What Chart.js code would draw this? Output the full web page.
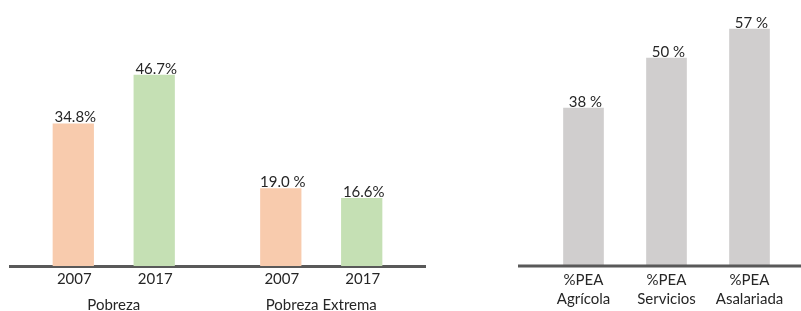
<!DOCTYPE html>
<html>
<head>
<meta charset="utf-8">
<script src="https://cdn.jsdelivr.net/npm/chart.js@4/dist/chart.umd.min.js"></script>
<style>
    body { margin: 0; background: #fff; }
    #wrap { position: relative; width: 801px; height: 311px; }
    .box { position: absolute; top: 0; height: 311px; }
</style>
</head>
<body>
<div id="wrap">
    <div class="box" style="left:0;width:430px"><canvas id="pobreza"></canvas></div>
    <div class="box" style="left:500px;width:301px"><canvas id="pea"></canvas></div>
</div>
<script>
const groups = ['Pobreza', 'Pobreza Extrema'];
const years = ['2007', '2017'];
const values2007 = [34.8, 19.0];
const values2017 = [46.7, 16.6];
const labels2007 = ['34.8%', '19.0 %'];
const labels2017 = ['46.7%', '16.6%'];

const peaCategories = [['%PEA', 'Agrícola'], ['%PEA', 'Servicios'], ['%PEA', 'Asalariada']];
const peaValues = [38, 50, 57];
const peaLabels = ['38 %', '50 %', '57 %'];

const FONT = 'Lato, "Open Sans", sans-serif';
const TEXT = '#262626';
const AXIS = '#595959';

Chart.defaults.font.family = FONT;
Chart.defaults.font.size = 15;
Chart.defaults.color = TEXT;

// text on top of each bar
const valueLabels = {
    id: 'valueLabels',
    afterDatasetsDraw(chart) {
        const ctx = chart.ctx;
        ctx.save();
        ctx.font = '15px ' + FONT;
        ctx.fillStyle = TEXT;
        ctx.textAlign = 'center';
        ctx.textBaseline = 'alphabetic';
        chart.data.datasets.forEach((ds, i) => {
            chart.getDatasetMeta(i).data.forEach((bar, j) => {
                ctx.fillText(ds.valueLabels[j], bar.x + 2, bar.y - 1);
            });
        });
        ctx.restore();
    },
};

// year under each bar of the left chart
const yearLabels = {
    id: 'yearLabels',
    afterDraw(chart) {
        const ctx = chart.ctx;
        const y = chart.scales.x.top + 13;
        ctx.save();
        ctx.font = '15px ' + FONT;
        ctx.fillStyle = TEXT;
        ctx.textAlign = 'center';
        ctx.textBaseline = 'middle';
        chart.data.datasets.forEach((ds, i) => {
            chart.getDatasetMeta(i).data.forEach(bar => {
                ctx.fillText(ds.label, bar.x + 1, y);
            });
        });
        ctx.restore();
    },
};

// base line of the right chart runs past the first bar
const baseLine = {
    id: 'baseLine',
    afterDatasetsDraw(chart) {
        const ctx = chart.ctx;
        const y = chart.scales.y.getPixelForValue(0);
        ctx.save();
        ctx.strokeStyle = AXIS;
        ctx.lineWidth = 3;
        ctx.beginPath();
        ctx.moveTo(18, y);
        ctx.lineTo(chart.width, y);
        ctx.stroke();
        ctx.restore();
    },
};

new Chart(document.getElementById('pobreza'), {
    type: 'bar',
    data: {
        labels: groups,
        datasets: [{
            label: years[0],
            data: values2007,
            valueLabels: labels2007,
            backgroundColor: '#F8CBAD',
        }, {
            label: years[1],
            data: values2017,
            valueLabels: labels2017,
            backgroundColor: '#C5E0B4',
        }],
    },
    options: {
        responsive: true,
        maintainAspectRatio: false,
        animation: false,
        layout: { padding: { left: 10, right: 5, top: 12, bottom: 0 } },
        categoryPercentage: 0.78,
        barPercentage: 0.51,
        plugins: { legend: { display: false }, tooltip: { enabled: false } },
        scales: {
            x: {
                grid: { display: false, drawTicks: false },
                border: { display: true, color: AXIS, width: 3 },
                ticks: { padding: 30, font: { size: 15 } },
                afterFit: s => { s.height = 45; },
            },
            y: { display: false, min: 0, max: 62 },
        },
    },
    plugins: [valueLabels, yearLabels],
});

new Chart(document.getElementById('pea'), {
    type: 'bar',
    data: {
        labels: peaCategories,
        datasets: [{
            label: 'PEA',
            data: peaValues,
            valueLabels: peaLabels,
            backgroundColor: '#D0CECE',
        }],
    },
    options: {
        responsive: true,
        maintainAspectRatio: false,
        animation: false,
        layout: { padding: { left: 42, right: 10, top: 12, bottom: 0 } },
        categoryPercentage: 1,
        barPercentage: 0.49,
        plugins: { legend: { display: false }, tooltip: { enabled: false } },
        scales: {
            x: {
                grid: { display: false, drawTicks: false },
                border: { display: false },
                ticks: { padding: 4, font: { size: 15, lineHeight: 1.3 } },
                afterFit: s => { s.height = 45; },
            },
            y: { display: false, min: 0, max: 61 },
        },
    },
    plugins: [valueLabels, baseLine],
});
</script>
</body>
</html>
